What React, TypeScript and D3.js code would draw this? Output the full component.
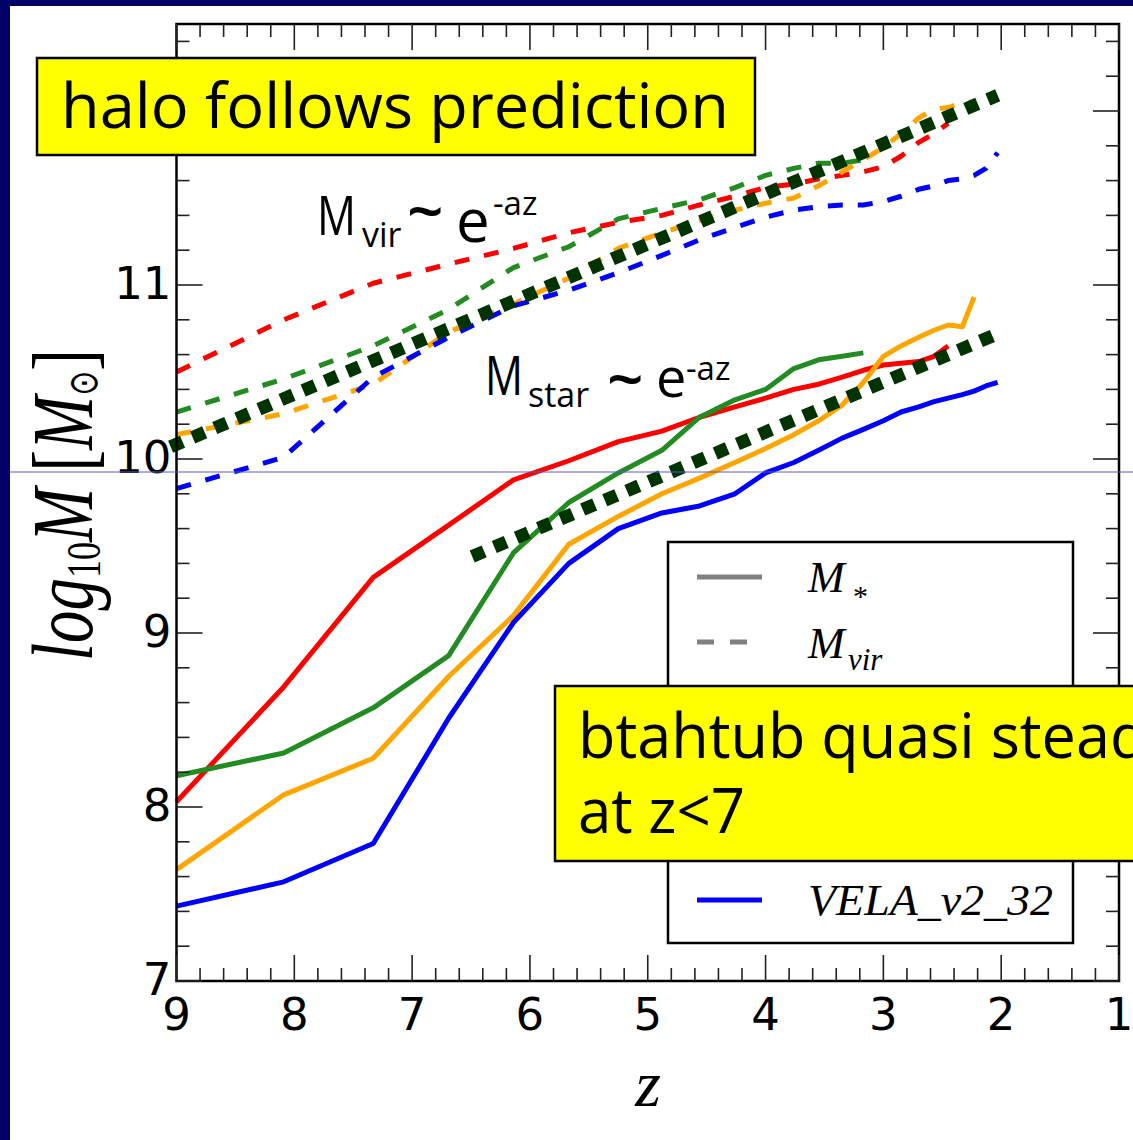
import React from 'react';
import * as d3 from 'd3';

const W = 1133;
const H = 1140;

// snapshot redshifts (shared by all runs; each run stops at its own last snapshot)
const redshifts = [9.0, 8.09, 7.33, 6.69, 6.14, 5.67, 5.25, 4.88, 4.56, 4.26, 4.0, 3.76, 3.55, 3.35, 3.17, 3.0, 2.85, 2.7, 2.57, 2.45, 2.33, 2.23, 2.13, 2.03];

// stellar mass, log10 M/Msun
const starRed = [8.03, 8.69, 9.32, 9.62, 9.88, 9.99, 10.1, 10.16, 10.24, 10.3, 10.35, 10.4, 10.43, 10.47, 10.51, 10.54, 10.55, 10.56, 10.59, 10.65];
const starGreen = [8.18, 8.31, 8.57, 8.87, 9.46, 9.75, 9.92, 10.05, 10.24, 10.34, 10.4, 10.52, 10.57, 10.59, 10.61];
const starOrange = [7.64, 8.07, 8.28, 8.75, 9.1, 9.51, 9.67, 9.8, 9.89, 9.98, 10.06, 10.14, 10.22, 10.31, 10.44, 10.59, 10.65, 10.7, 10.74, 10.77, 10.76, 10.93];
const starBlue = [7.43, 7.57, 7.79, 8.51, 9.06, 9.4, 9.6, 9.69, 9.73, 9.8, 9.92, 9.98, 10.05, 10.12, 10.17, 10.22, 10.27, 10.3, 10.33, 10.35, 10.37, 10.39, 10.42, 10.44];

// virial mass, log10 M/Msun
const virRed = [10.5, 10.8, 11.01, 11.12, 11.21, 11.3, 11.36, 11.4, 11.46, 11.51, 11.56, 11.58, 11.61, 11.63, 11.65, 11.68, 11.74, 11.82, 11.87, 11.93];
const virGreen = [10.27, 10.46, 10.65, 10.86, 11.1, 11.22, 11.38, 11.44, 11.49, 11.56, 11.63, 11.67, 11.7, 11.7, 11.72];
const virOrange = [10.14, 10.26, 10.43, 10.73, 10.89, 11.04, 11.21, 11.3, 11.37, 11.43, 11.47, 11.5, 11.57, 11.65, 11.72, 11.79, 11.87, 11.96, 12.01, 12.02, 12.05, 12.05];
const virBlue = [9.83, 10.01, 10.47, 10.7, 10.88, 10.97, 11.07, 11.17, 11.26, 11.33, 11.39, 11.43, 11.45, 11.46, 11.46, 11.48, 11.51, 11.55, 11.57, 11.6, 11.61, 11.63, 11.67, 11.76];

// exponential growth guides (straight in log M vs z)
const haloFitZ = [9.05, 2.03];
const haloFitM = [10.07, 12.09];
const starFitZ = [6.49, 2.03];
const starFitM = [9.44, 10.72];

const runNames = ['VELA_v2_07', 'VELA_v2_12', 'VELA_v2_25', 'VELA_v2_32'];
const runColors = ['#ff0000', '#228b22', '#ffa500', '#0000ff'];
const starSeries = [starRed, starGreen, starOrange, starBlue];
const virSeries = [virRed, virGreen, virOrange, virBlue];

const xMajor = [9, 8, 7, 6, 5, 4, 3, 2, 1];
const yMajor = [7, 8, 9, 10, 11, 12];
// the 12 label sits under the top callout box, so only these are printed
const yLabelled = [7, 8, 9, 10, 11];

const plot = { left: 176.5, right: 1119, top: 24, bottom: 981 };

const x = d3.scaleLinear().domain([9, 1]).range([plot.left, plot.right]);
const y = d3.scaleLinear().domain([7, 12.5]).range([plot.bottom, plot.top]);

const line = d3
  .line<[number, number]>()
  .x((d) => x(d[0]))
  .y((d) => y(d[1]));

const pairs = (zs: number[], ms: number[]): [number, number][] => ms.map((m, i) => [zs[i], m]);

const xMinor = d3.range(9, 0.99, -0.2).map((v) => +v.toFixed(2)).filter((v) => !xMajor.includes(v));
const yMinor = d3.range(7, 12.51, 0.2).map((v) => +v.toFixed(2)).filter((v) => !yMajor.includes(v));

const COMIC = "'Comic Sans MS', 'Open Sans', sans-serif";
const SERIF = "'Liberation Serif', 'DejaVu Serif', serif";
const SANS = "'DejaVu Sans', sans-serif";

export default function App() {
  const majorLen = 26;
  const minorLen = 13;
  const tickColor = '#222';

  const legendRows = [577, 642, 706, 771, 835, 900];

  return (
    <svg
      width={W}
      height={H}
      viewBox={`0 0 ${W} ${H}`}
      style={{ position: 'absolute', left: 0, top: 0, display: 'block', background: '#fff' }}
    >
      <rect x={0} y={0} width={W} height={H} fill="#ffffff" />

      {/* data lines */}
      <g fill="none" strokeLinejoin="round">
        {starSeries.map((s, i) => (
          <path key={'s' + i} d={line(pairs(redshifts, s)) || ''} stroke={runColors[i]} strokeWidth={5} />
        ))}
        {virSeries.map((s, i) => (
          <path
            key={'v' + i}
            d={line(pairs(redshifts, s)) || ''}
            stroke={runColors[i]}
            strokeWidth={5}
            strokeDasharray="15 15"
          />
        ))}
      </g>

      {/* growth guides */}
      <g fill="none" stroke="#003300" strokeWidth={13} strokeDasharray="13 11">
        <path d={line(pairs(haloFitZ, haloFitM)) || ''} />
        <path d={line(pairs(starFitZ, starFitM)) || ''} />
      </g>

      {/* frame */}
      <rect
        x={plot.left}
        y={plot.top}
        width={plot.right - plot.left}
        height={plot.bottom - plot.top}
        fill="none"
        stroke="#000"
        strokeWidth={2.5}
      />

      {/* ticks */}
      <g stroke={tickColor} strokeWidth={1.6}>
        {xMajor.map((v) => (
          <g key={'xM' + v}>
            <line x1={x(v)} x2={x(v)} y1={plot.bottom} y2={plot.bottom - majorLen} />
            <line x1={x(v)} x2={x(v)} y1={plot.top} y2={plot.top + majorLen} />
          </g>
        ))}
        {xMinor.map((v) => (
          <g key={'xm' + v}>
            <line x1={x(v)} x2={x(v)} y1={plot.bottom} y2={plot.bottom - minorLen} />
            <line x1={x(v)} x2={x(v)} y1={plot.top} y2={plot.top + minorLen} />
          </g>
        ))}
        {yMajor.map((v) => (
          <g key={'yM' + v}>
            <line x1={plot.left} x2={plot.left + majorLen} y1={y(v)} y2={y(v)} />
            <line x1={plot.right} x2={plot.right - majorLen} y1={y(v)} y2={y(v)} />
          </g>
        ))}
        {yMinor.map((v) => (
          <g key={'ym' + v}>
            <line x1={plot.left} x2={plot.left + minorLen} y1={y(v)} y2={y(v)} />
            <line x1={plot.right} x2={plot.right - minorLen} y1={y(v)} y2={y(v)} />
          </g>
        ))}
      </g>

      {/* tick labels */}
      <g fontFamily={SANS} fontSize={45} fill="#000">
        {xMajor.map((v) => (
          <text key={'xl' + v} x={x(v)} y={plot.bottom + 49} textAnchor="middle">
            {v}
          </text>
        ))}
        {yLabelled.map((v) => (
          <text key={'yl' + v} x={plot.left - 5} y={y(v) + 14} textAnchor="end">
            {v}
          </text>
        ))}
      </g>

      {/* axis titles */}
      <text x={648} y={1106} fontFamily={SERIF} fontStyle="italic" fontSize={66} textAnchor="middle">
        z
      </text>
      <g transform="translate(92, 505) rotate(-90) scale(1, 1.35)" fontFamily={SERIF} fill="#000">
        <text x={0} y={0} textAnchor="middle" fontSize={65}>
          <tspan fontStyle="italic">log</tspan>
          <tspan fontSize={36} dy={6}>10</tspan>
          <tspan fontStyle="italic" dy={-6}>M</tspan>
          <tspan> [</tspan>
          <tspan fontStyle="italic">M</tspan>
          <tspan fontSize={30} dy={4} fontFamily="'DejaVu Sans', sans-serif">⊙</tspan>
          <tspan dy={-4}>]</tspan>
        </text>
      </g>

      {/* legend */}
      <g>
        <rect x={668} y={542} width={405} height={401} fill="#fff" stroke="#000" strokeWidth={2.5} />
        <line x1={697} x2={762} y1={legendRows[0]} y2={legendRows[0]} stroke="#808080" strokeWidth={5} />
        <line
          x1={697}
          x2={762}
          y1={legendRows[1]}
          y2={legendRows[1]}
          stroke="#808080"
          strokeWidth={5}
          strokeDasharray="17 16"
        />
        <text x={808} y={592} fontFamily={SERIF} fontStyle="italic" fontSize={44}>
          M
        </text>
        <text x={853} y={606} fontFamily={SERIF} fontSize={30}>
          *
        </text>
        <text x={808} y={658} fontFamily={SERIF} fontStyle="italic" fontSize={44}>
          M
        </text>
        <text x={848} y={670} fontFamily={SERIF} fontStyle="italic" fontSize={31}>
          vir
        </text>
        {runNames.map((n, i) => (
          <line
            key={n}
            x1={697}
            x2={762}
            y1={legendRows[i + 2]}
            y2={legendRows[i + 2]}
            stroke={runColors[i]}
            strokeWidth={5}
          />
        ))}
        <text
          x={808}
          y={legendRows[5] + 15}
          fontFamily={SERIF}
          fontStyle="italic"
          fontSize={44}
          textLength={245}
          lengthAdjust="spacingAndGlyphs"
        >
          {runNames[3]}
        </text>
      </g>

      {/* thin horizontal guide */}
      <line x1={10} x2={W} y1={472} y2={472} stroke="#5a5ac8" strokeWidth={1} />

      {/* annotations */}
      <g fontFamily={COMIC} fill="#000">
        <text x={317} y={235} fontSize={54} textLength={39} lengthAdjust="spacingAndGlyphs">M</text>
        <text x={362} y={247} fontSize={34}>vir</text>
        <text x={407} y={234} fontSize={64} fontWeight={600}>~</text>
        <text x={456} y={242} fontSize={60}>e</text>
        <text x={493} y={215} fontSize={33}>-az</text>

        <text x={485} y={395} fontSize={54} textLength={38} lengthAdjust="spacingAndGlyphs">M</text>
        <text x={528} y={407} fontSize={34}>star</text>
        <text x={607} y={402} fontSize={64} fontWeight={600}>~</text>
        <text x={656} y={397} fontSize={54}>e</text>
        <text x={686} y={380} fontSize={33}>-az</text>
      </g>

      {/* callout boxes */}
      <g>
        <rect x={37} y={58} width={718} height={97} fill="#ffff00" stroke="#000" strokeWidth={2.5} />
        <text
          x={61}
          y={128}
          fontFamily={COMIC}
          fontSize={62}
          textLength={668}
          lengthAdjust="spacingAndGlyphs"
        >
          halo follows prediction
        </text>
        <rect x={555} y={686} width={620} height={175} fill="#ffff00" stroke="#000" strokeWidth={2.5} />
        <text
          x={578}
          y={758}
          fontFamily={COMIC}
          fontSize={62}
          textLength={600}
          lengthAdjust="spacingAndGlyphs"
        >
          btahtub quasi steady
        </text>
        <text
          x={578}
          y={833}
          fontFamily={COMIC}
          fontSize={62}
          textLength={167}
          lengthAdjust="spacingAndGlyphs"
        >
          at z&lt;7
        </text>
      </g>

      {/* slide border */}
      <rect x={0} y={0} width={W} height={6} fill="#000066" />
      <rect x={0} y={0} width={10} height={H} fill="#000066" />
    </svg>
  );
}
